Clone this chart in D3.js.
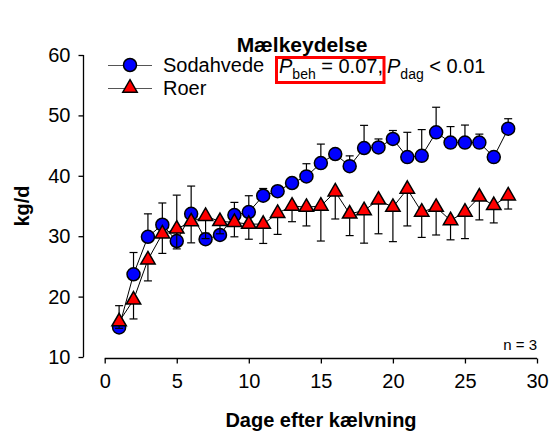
<!DOCTYPE html>
<html>
<head>
<meta charset="utf-8">
<script src="https://cdn.jsdelivr.net/npm/d3@7"></script>
<style>
  body { margin: 0; background: #fff; }
  svg { display: block; font-family: "Liberation Sans", Arial, sans-serif; }
</style>
</head>
<body>
<svg id="chart" width="551" height="436"></svg>
<script>
const days = [1,2,3,4,5,6,7,8,9,10,11,12,13,14,15,16,17,18,19,20,21,22,23,24,25,26,27,28];
const sodahvede = [14.9,23.7,29.9,31.9,29.2,33.7,29.5,30.2,33.5,34.0,36.7,37.45,38.8,39.9,42.1,43.6,41.6,44.6,44.7,46.1,43.1,43.3,47.2,45.5,45.5,45.5,43.1,47.8];
const sodahvedeSE = [3.6,3.6,3.8,3.6,7.6,4.6,1.0,0.8,2.1,2.7,1.2,0.5,0.5,2.1,3.15,0.5,1.7,3.75,1.4,1.4,4.1,4.35,4.15,2.65,2.9,1.4,0.5,1.65];
const roer = [15.85,19.45,26.1,30.4,31.2,32.4,33.3,32.45,32.3,32.0,32.0,33.8,35.0,34.8,35.0,37.35,33.7,34.25,36.0,34.8,37.8,34.0,34.8,32.6,34.0,36.5,35.1,36.7];
const roerSE = [1.1,3.15,3.5,3.25,3.3,3.5,3.7,2.05,2.4,2.5,3.2,3.5,2.6,3.1,5.8,4.5,3.6,5.4,5.6,5.7,6.1,4.2,4.6,3.2,4.4,3.8,2.9,2.2];
const xTicks = [0,5,10,15,20,25,30];
const yTicks = [10,20,30,40,50,60];
const seriesNames = ["Sodahvede", "Roer"];

const svg = d3.select("#chart");
const x = d3.scaleLinear().domain([0,30]).range([104.7,537]);
const y = d3.scaleLinear().domain([10,60]).range([357,55]);
const FS = 20;

// Title
svg.append("text").attr("x", 302).attr("y", 52).attr("text-anchor","middle")
  .attr("font-size", 21).attr("font-weight","bold").text("Mælkeydelse");

// Y axis
const yAxis = d3.axisLeft(y).tickValues(yTicks).tickSize(5).tickPadding(8);
const gy = svg.append("g").attr("transform","translate(83.5,0)").call(yAxis);
gy.select(".domain").attr("d", `M0,${y(60)}V${y(10)}`).attr("stroke","#000").attr("stroke-width",1.3);
gy.selectAll(".tick line").attr("stroke","#000").attr("stroke-width",1.3);
gy.selectAll(".tick text").attr("font-size",FS).attr("font-family","Liberation Sans, Arial, sans-serif").attr("fill","#000");

// X axis
const xAxis = d3.axisBottom(x).tickValues(xTicks).tickSize(5).tickPadding(10);
const gx = svg.append("g").attr("transform","translate(0,358.5)").call(xAxis);
gx.select(".domain").attr("d", `M${x(0)},0H${x(30)}`).attr("stroke","#000").attr("stroke-width",1.3);
gx.selectAll(".tick line").attr("stroke","#000").attr("stroke-width",1.3);
gx.selectAll(".tick text").attr("font-size",FS).attr("font-family","Liberation Sans, Arial, sans-serif").attr("fill","#000");

// Axis titles
svg.append("text").attr("x", 321).attr("y", 427).attr("text-anchor","middle")
  .attr("font-size", FS).attr("font-weight","bold").text("Dage efter kælvning");
svg.append("text").attr("transform","translate(29,206) rotate(-90)").attr("text-anchor","middle")
  .attr("font-size", FS).attr("font-weight","bold").text("kg/d");

// n = 3
svg.append("text").attr("x", 537).attr("y", 350).attr("text-anchor","end")
  .attr("font-size", 15).text("n = 3");

const triangle = d3.symbol().type(d3.symbolTriangle).size(90);
const capW = 4;

function drawSeries(vals, se, dir, marker) {
  const g = svg.append("g");
  const pts = days.map((d,i) => ({d, v: vals[i], e: se[i]}));
  g.append("path").datum(pts)
    .attr("d", d3.line().x(p => x(p.d)).y(p => y(p.v)))
    .attr("fill","none").attr("stroke","#000").attr("stroke-width",1);
  const eb = g.selectAll(".eb").data(pts).enter().append("g");
  eb.append("line")
    .attr("x1", p => x(p.d)).attr("x2", p => x(p.d))
    .attr("y1", p => y(p.v)).attr("y2", p => y(p.v + dir*p.e))
    .attr("stroke","#000").attr("stroke-width",1.2);
  eb.append("line")
    .attr("x1", p => x(p.d)-capW).attr("x2", p => x(p.d)+capW)
    .attr("y1", p => y(p.v + dir*p.e)).attr("y2", p => y(p.v + dir*p.e))
    .attr("stroke","#000").attr("stroke-width",1.2);
  if (marker === "circle") {
    g.selectAll(".m").data(pts).enter().append("circle")
      .attr("cx", p => x(p.d)).attr("cy", p => y(p.v)).attr("r", 6.5)
      .attr("fill","#0000ff").attr("stroke","#000").attr("stroke-width",1.5);
  } else {
    g.selectAll(".m").data(pts).enter().append("path")
      .attr("d", triangle)
      .attr("transform", p => `translate(${x(p.d)},${y(p.v)})`)
      .attr("fill","#ff0000").attr("stroke","#000").attr("stroke-width",1.5);
  }
}
drawSeries(sodahvede, sodahvedeSE, 1, "circle");
drawSeries(roer, roerSE, -1, "triangle");

// Legend
const leg = svg.append("g");
[[65,"circle",seriesNames[0]],[88,"triangle",seriesNames[1]]].forEach(([ly,m,name]) => {
  leg.append("line").attr("x1",108).attr("x2",152).attr("y1",ly+0.5).attr("y2",ly+0.5)
    .attr("stroke","#555").attr("stroke-width",1.2);
  if (m === "circle") {
    leg.append("circle").attr("cx",130).attr("cy",ly).attr("r",6.5)
      .attr("fill","#0000ff").attr("stroke","#000").attr("stroke-width",1.5);
  } else {
    leg.append("path").attr("d", triangle).attr("transform",`translate(130,${ly})`)
      .attr("fill","#ff0000").attr("stroke","#000").attr("stroke-width",1.5);
  }
  leg.append("text").attr("x",163).attr("y",ly+7).attr("font-size",FS).text(name);
});

// P-value annotation
const t1 = svg.append("text").attr("x",279).attr("y",73).attr("font-size",FS);
t1.append("tspan").attr("font-style","italic").text("P");
t1.append("tspan").attr("font-size",14).attr("dy",6).text("beh");
t1.append("tspan").attr("dy",-6).text(" = 0.07,");
const t2 = svg.append("text").attr("x",387).attr("y",73).attr("font-size",FS);
t2.append("tspan").attr("font-style","italic").text("P");
t2.append("tspan").attr("font-size",14).attr("dy",6).text("dag");
t2.append("tspan").attr("dy",-6).text(" < 0.01");
svg.append("rect").attr("x",276.5).attr("y",57.5).attr("width",107.5).attr("height",25)
  .attr("fill","none").attr("stroke","#ff0000").attr("stroke-width",3);
</script>
</body>
</html>
